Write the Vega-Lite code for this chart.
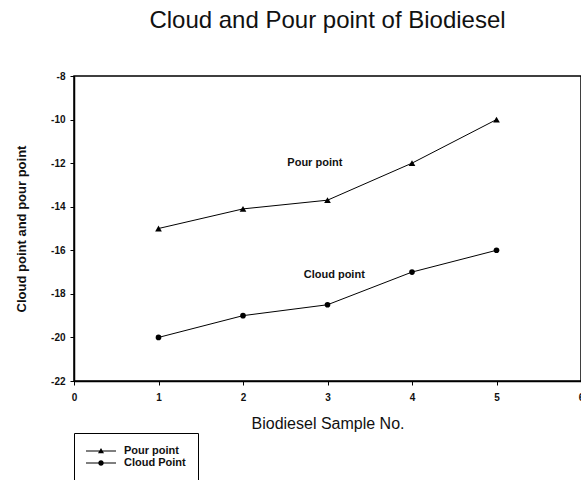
{
  "$schema": "https://vega.github.io/schema/vega-lite/v6.json",
  "width": 507,
  "height": 305,
  "autosize": {"type": "none"},
  "padding": {"left": 74, "top": 76, "right": 0, "bottom": 99},
  "background": "white",
  "title": {
    "text": "Cloud and Pour point of Biodiesel",
    "font": "Liberation Sans",
    "fontSize": 24,
    "fontWeight": "normal",
    "color": "#111111",
    "anchor": "middle",
    "offset": 38
  },
  "config": {
    "view": {"stroke": "black", "strokeWidth": 1.5},
    "axis": {
      "domainColor": "black",
      "domainWidth": 1.5,
      "tickColor": "black",
      "tickSize": 4,
      "grid": false,
      "labelFont": "Liberation Sans",
      "labelFontWeight": "bold",
      "labelFontSize": 10,
      "labelColor": "#111111",
      "titleFont": "Liberation Sans",
      "titleColor": "#111111",
      "labelFlush": false,
      "labelOverlap": false,
      "labelBound": false
    }
  },
  "datasets": {
    "series": [
      {"sample": 1, "value": -15, "series": "Pour point"},
      {"sample": 2, "value": -14.1, "series": "Pour point"},
      {"sample": 3, "value": -13.7, "series": "Pour point"},
      {"sample": 4, "value": -12, "series": "Pour point"},
      {"sample": 5, "value": -10, "series": "Pour point"},
      {"sample": 1, "value": -20, "series": "Cloud Point"},
      {"sample": 2, "value": -19, "series": "Cloud Point"},
      {"sample": 3, "value": -18.5, "series": "Cloud Point"},
      {"sample": 4, "value": -17, "series": "Cloud Point"},
      {"sample": 5, "value": -16, "series": "Cloud Point"}
    ],
    "notes": [
      {"sample": 2.85, "value": -12, "label": "Pour point"},
      {"sample": 3.08, "value": -17.13, "label": "Cloud point"}
    ]
  },
  "layer": [
    {
      "data": {"name": "series"},
      "mark": {"type": "line", "color": "black", "strokeWidth": 1},
      "encoding": {
        "x": {"field": "sample", "type": "quantitative",
          "scale": {"domain": [0, 6], "nice": false},
          "axis": {"values": [0, 1, 2, 3, 4, 5, 6], "labelExpr": "toString(datum.value)", "title": "Biodiesel Sample No.", "titleFontSize": 16, "titleFontWeight": "normal", "labelPadding": 7, "titlePadding": 13}},
        "y": {"field": "value", "type": "quantitative",
          "scale": {"domain": [-22, -8], "nice": false, "zero": false},
          "axis": {"values": [-22, -20, -18, -16, -14, -12, -10, -8], "labelExpr": "toString(datum.value)", "title": "Cloud point and pour point", "titleFontSize": 13, "titleFontWeight": "bold", "labelPadding": 5, "titlePadding": 22}},
        "detail": {"field": "series"}
      }
    },
    {
      "data": {"name": "series"},
      "transform": [{"filter": "datum.series === 'Pour point'"}],
      "mark": {"type": "point", "filled": true, "opacity": 1, "color": "black", "shape": "triangle-up", "size": 45},
      "encoding": {
        "x": {"field": "sample", "type": "quantitative"},
        "y": {"field": "value", "type": "quantitative"}
      }
    },
    {
      "data": {"name": "series"},
      "transform": [{"filter": "datum.series === 'Cloud Point'"}],
      "mark": {"type": "point", "filled": true, "opacity": 1, "color": "black", "shape": "circle", "size": 32},
      "encoding": {
        "x": {"field": "sample", "type": "quantitative"},
        "y": {"field": "value", "type": "quantitative"}
      }
    },
    {
      "data": {"name": "series"},
      "transform": [{"filter": "datum.sample < 0"}],
      "mark": {"type": "point", "filled": true, "opacity": 1, "color": "black", "size": 100},
      "encoding": {
        "x": {"field": "sample", "type": "quantitative"},
        "y": {"field": "value", "type": "quantitative"},
        "shape": {"field": "series", "type": "nominal",
          "scale": {"domain": ["Pour point", "Cloud Point"], "range": ["M-1.2,-0.12H4.8V0.12H-1.2Z M1.8,-0.6L2.4,0.45L1.2,0.45Z", "M-1.2,-0.12H4.8V0.12H-1.2Z M1.25,0A0.55,0.55 0 1,1 2.35,0A0.55,0.55 0 1,1 1.25,0Z"]},
          "legend": {
            "title": null,
            "orient": "none",
            "legendX": 0,
            "legendY": 357,
            "direction": "vertical",
            "strokeColor": "black",
            "padding": 12,
            "symbolSize": 100,
            "symbolFillColor": "black",
            "labelOffset": 26,
            "labelFont": "Liberation Sans",
            "labelFontWeight": "bold",
            "labelFontSize": 11,
            "labelColor": "#111111",
            "rowPadding": 0
          }
        }
      }
    },
    {
      "data": {"name": "notes"},
      "mark": {"type": "text", "font": "Liberation Sans", "fontWeight": "bold", "fontSize": 11, "color": "#111111", "align": "center", "baseline": "middle"},
      "encoding": {
        "x": {"field": "sample", "type": "quantitative"},
        "y": {"field": "value", "type": "quantitative"},
        "text": {"field": "label"}
      }
    }
  ]
}
